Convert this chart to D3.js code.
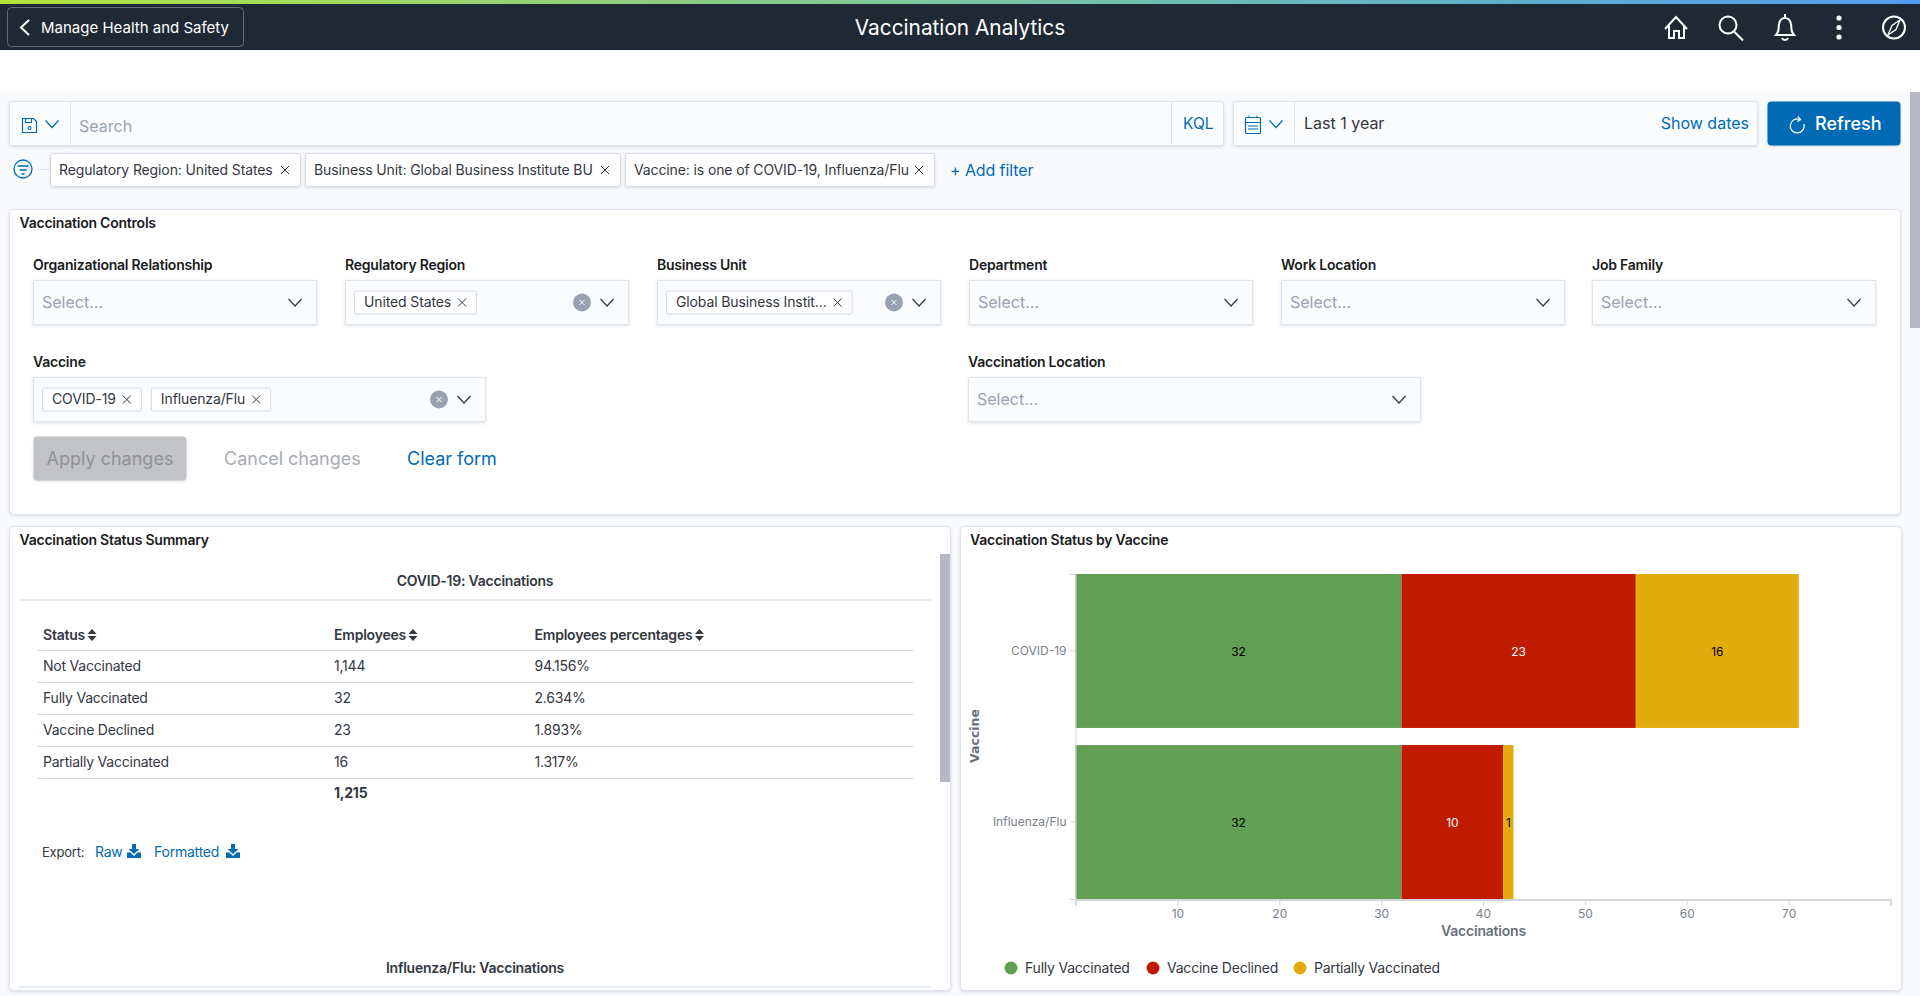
<!DOCTYPE html>
<html>
<head>
<meta charset="utf-8">
<title>Vaccination Analytics</title>
<script src="https://cdn.jsdelivr.net/npm/d3@7"></script>
<style>
html, body { margin: 0; padding: 0; background: #fff; overflow: hidden; }
svg { display: block; font-family: Inter, "Noto Sans", sans-serif; }
.raised { filter: drop-shadow(0 1.5px 1.5px rgba(152,162,179,.35)); }
.axis text { font-family: Inter, sans-serif; font-size: 12px; fill: #7a808b; }
.axis path, .axis line { stroke: #d3d6db; }
</style>
</head>
<body>
<svg id="page" width="1920" height="996"></svg>
<script>
"use strict";

// chart values
const vaccines = ['COVID-19', 'Influenza/Flu'];
const statuses = ['Fully Vaccinated', 'Vaccine Declined', 'Partially Vaccinated'];
const fully_vaccinated = [32, 32];
const vaccine_declined = [23, 10];
const partially_vaccinated = [16, 1];
const x_ticks = [10, 20, 30, 40, 50, 60, 70];

// summary table
const table_columns = ['Status', 'Employees', 'Employees percentages'];
const table_status = ['Not Vaccinated', 'Fully Vaccinated', 'Vaccine Declined', 'Partially Vaccinated'];
const table_employees = ['1,144', '32', '23', '16'];
const table_percent = ['94.156%', '2.634%', '1.893%', '1.317%'];
const table_total = '1,215';

// filter bar and form
const filter_pills = ['Regulatory Region: United States', 'Business Unit: Global Business Institute BU', 'Vaccine: is one of COVID-19, Influenza/Flu'];
const row_one_labels = ['Organizational Relationship', 'Regulatory Region', 'Business Unit', 'Department', 'Work Location', 'Job Family'];
const row_one_tags = [[], ['United States'], ['Global Business Instit...'], [], [], []];
const row_two_labels = ['Vaccine', 'Vaccination Location'];
const row_two_tags = [['COVID-19', 'Influenza/Flu'], []];

const blue = '#006bb4', ink = '#343741', dark = '#1a1c21', muted = '#98a2b3', border = '#dfe3ec', field = '#fbfcfd';
const status_colors = ['#629f52', '#bf1b00', '#e3ac0d'];
const label_colors = ['#000', '#fff', '#000'];

const svg = d3.select('#page');

function label(parent, x, y, str, size, fill, weight, anchor) {
    return parent.append('text')
        .attr('x', x).attr('y', y).attr('dy', '.35em')
        .attr('font-size', size).attr('fill', fill)
        .attr('font-weight', weight || 400)
        .attr('text-anchor', anchor || 'start')
        .style('letter-spacing', size <= 14 ? '-.22px' : null)
        .text(str);
}

function box(parent, x, y, w, h, fill, stroke, r, raised) {
    return parent.append('rect')
        .attr('x', x + .5).attr('y', y + .5)
        .attr('width', w - 1).attr('height', h - 1)
        .attr('rx', r || 0)
        .attr('fill', fill).attr('stroke', stroke || 'none')
        .attr('class', raised ? 'raised' : null);
}

function chevron(parent, x, y, color) {
    parent.append('path')
        .attr('d', `M${x - 6.5},${y - 3.5}L${x},${y + 3.5}L${x + 6.5},${y - 3.5}`)
        .attr('fill', 'none').attr('stroke', color || ink).attr('stroke-width', 1.2);
}

function cross(parent, x, y, color, s) {
    s = s || 4;
    parent.append('path')
        .attr('d', `M${x - s},${y - s}L${x + s},${y + s}M${x + s},${y - s}L${x - s},${y + s}`)
        .attr('fill', 'none').attr('stroke', color || ink).attr('stroke-width', 1);
}

function draw_header() {
    const defs = svg.append('defs');
    const grad = defs.append('linearGradient').attr('id', 'top-bar');
    grad.append('stop').attr('offset', '0%').attr('stop-color', '#b4e33d');
    grad.append('stop').attr('offset', '50%').attr('stop-color', '#7ac5a0');
    grad.append('stop').attr('offset', '100%').attr('stop-color', '#4f9df0');

    svg.append('rect').attr('width', 1920).attr('height', 50).attr('fill', '#1f2935');
    svg.append('rect').attr('width', 1920).attr('height', 4).attr('fill', 'url(#top-bar)');

    box(svg, 7, 7, 237, 40, 'none', '#5f6b78', 4);
    svg.append('path').attr('d', 'M29,20L21,27.5L29,35').attr('fill', 'none').attr('stroke', '#fff').attr('stroke-width', 2);
    label(svg, 41, 27.5, 'Manage Health and Safety', 15, '#fff');
    label(svg, 960, 28, 'Vaccination Analytics', 20.8, '#fff', 400, 'middle');

    const icons = svg.append('g').attr('fill', 'none').attr('stroke', '#fff').attr('stroke-width', 2);
    icons.append('path').attr('d', 'M1665,29L1676,17L1687,29M1669,26V38H1674V31H1679V38H1684V26');
    icons.append('circle').attr('cx', 1728).attr('cy', 25).attr('r', 8.5);
    icons.append('path').attr('d', 'M1734,31.5L1743,40.5');
    icons.append('path').attr('d', 'M1776,35C1780,31 1778,28 1779,24C1780,19 1783,18 1785,18C1787,18 1790,19 1791,24C1792,28 1790,31 1794,35Z M1782,38C1783,40.5 1787,40.5 1788,38');
    icons.append('path').attr('d', 'M1785,14V17');
    const dots = svg.append('g').attr('fill', '#fff');
    [18, 27.5, 37].forEach(cy => dots.append('circle').attr('cx', 1839).attr('cy', cy).attr('r', 2.6));
    icons.append('circle').attr('cx', 1894).attr('cy', 27.5).attr('r', 11);
    icons.append('path').attr('d', 'M1900,20L1892,25.5L1888,35L1896,29.5Z').attr('stroke-width', 1.3);
}

function draw_query_bar() {
    svg.append('rect').attr('y', 92).attr('width', 1920).attr('height', 904).attr('fill', '#f9fafc');

    box(svg, 9, 101, 1215, 45, field, border, 2, true);
    svg.append('line').attr('x1', 70.5).attr('x2', 70.5).attr('y1', 102).attr('y2', 145).attr('stroke', border);
    svg.append('line').attr('x1', 1171.5).attr('x2', 1171.5).attr('y1', 102).attr('y2', 145).attr('stroke', border);
    const save = svg.append('g').attr('fill', 'none').attr('stroke', blue).attr('stroke-width', 1.2);
    save.append('path').attr('d', 'M22.5,118.5H33.5L36.5,121.5V132.5H22.5Z');
    save.append('path').attr('d', 'M25.5,118.5V122.5H31.5V118.5');
    save.append('circle').attr('cx', 29.5).attr('cy', 128).attr('r', 1.5);
    chevron(svg, 52, 124, blue);
    label(svg, 79, 126, 'Search', 16, muted);
    label(svg, 1183, 123.5, 'KQL', 15.5, blue);

    box(svg, 1233, 101, 525, 45, field, border, 2, true);
    svg.append('line').attr('x1', 1294.5).attr('x2', 1294.5).attr('y1', 102).attr('y2', 145).attr('stroke', border);
    const cal = svg.append('g').attr('fill', 'none').attr('stroke', blue).attr('stroke-width', 1.2);
    cal.append('rect').attr('x', 1245.5).attr('y', 117.5).attr('width', 15).attr('height', 16).attr('rx', 1);
    cal.append('path').attr('d', 'M1245.5,122.5H1260.5M1249,115.5V118M1257,115.5V118M1248,126H1258M1248,129H1258').attr('stroke-width', 1);
    chevron(svg, 1276, 124, blue);
    label(svg, 1304, 123.5, 'Last 1 year', 16, ink);
    label(svg, 1749, 123.5, 'Show dates', 16, blue, 400, 'end');

    box(svg, 1767, 101, 134, 45, blue, null, 4, true);
    svg.append('path').attr('d', 'M1800,119.5A7,7 0 1 0 1804,124').attr('fill', 'none').attr('stroke', '#fff').attr('stroke-width', 1.3);
    svg.append('path').attr('d', 'M1798,116.5L1800.5,119.5L1797.5,121.5').attr('fill', 'none').attr('stroke', '#fff').attr('stroke-width', 1.3);
    label(svg, 1815, 124, 'Refresh', 18, '#fff', 500);

    svg.append('rect').attr('x', 1910).attr('y', 92).attr('width', 10).attr('height', 236).attr('fill', '#b5b8c0');

    const funnel = svg.append('g').attr('fill', 'none').attr('stroke', blue).attr('stroke-width', 1.3);
    funnel.append('circle').attr('cx', 23).attr('cy', 169).attr('r', 9);
    funnel.append('path').attr('d', 'M17.5,166H28.5M19.5,170H26.5M21.5,174H24.5');
    svg.append('line').attr('x1', 38).attr('x2', 50).attr('y1', 169.5).attr('y2', 169.5).attr('stroke', border);

    const pill_x = [50, 305, 625], pill_w = [251, 316, 310];
    filter_pills.forEach((pill, i) => {
        box(svg, pill_x[i], 153, pill_w[i], 34, '#fff', '#d3dae6', 2, true);
        label(svg, pill_x[i] + 9, 170, pill, 14, ink).style('letter-spacing', '-.12px');
        cross(svg, pill_x[i] + pill_w[i] - 16, 170, ink, 4);
    });
    label(svg, 950, 170, '+ Add filter', 16, blue).style('letter-spacing', '-.1px');
}

function draw_field(parent, x, y, w, name, tags) {
    label(parent, x, y - 15, name, 14, dark, 600);
    box(parent, x, y, w, 45, field, border, 0, true);
    const mid = y + 22.5;
    if (!tags.length) {
        label(parent, x + 9, mid, 'Select...', 16, muted);
        chevron(parent, x + w - 22, mid, ink);
        return;
    }
    let tag_x = x + 9;
    tags.forEach(tag => {
        const t = label(parent, tag_x + 10, mid, tag, 14, ink).style('letter-spacing', '-.12px');
        const tw = t.node().getComputedTextLength();
        box(parent, tag_x, mid - 12, tw + 36, 24, '#fff', '#d3dae6', 2);
        t.raise();
        cross(parent, tag_x + tw + 21, mid, ink, 4);
        tag_x += tw + 45;
    });
    parent.append('circle').attr('cx', x + w - 47).attr('cy', mid).attr('r', 9).attr('fill', muted);
    cross(parent, x + w - 47, mid, '#fff', 2.5);
    chevron(parent, x + w - 22, mid, ink);
}

function draw_controls() {
    const panel = svg.append('g');
    box(panel, 9, 209, 1892, 306, '#fff', '#dfe3ec', 4, true);
    label(panel, 19.5, 223, 'Vaccination Controls', 14, dark, 600);

    const row_one_x = [33, 345, 657, 969, 1281, 1592];
    row_one_labels.forEach((name, i) => draw_field(panel, row_one_x[i], 280, 284, name, row_one_tags[i]));

    draw_field(panel, 33, 377, 453, row_two_labels[0], row_two_tags[0]);
    draw_field(panel, 968, 377, 453, row_two_labels[1], row_two_tags[1]);

    box(panel, 33, 436, 154, 45, '#c2c3c6', null, 4, true);
    label(panel, 110, 458.5, 'Apply changes', 18, '#8f9298', 400, 'middle');
    label(panel, 224, 458.5, 'Cancel changes', 18, '#a9acb3', 400);
    label(panel, 407, 458.5, 'Clear form', 18, blue, 400);
}

function sort_icon(parent, x, y) {
    parent.append('path')
        .attr('d', `M${x},${y - 6}L${x + 4.5},${y - 1}H${x - 4.5}ZM${x},${y + 6}L${x + 4.5},${y + 1}H${x - 4.5}Z`)
        .attr('fill', ink);
}

function export_icon(parent, x, y) {
    parent.append('path')
        .attr('d', `M${x - 2},${y - 7}H${x + 2}V${y - 2}H${x + 5.5}L${x},${y + 3}L${x - 5.5},${y - 2}H${x - 2}ZM${x - 7},${y + 1.5}H${x - 3.5}L${x},${y + 5}L${x + 3.5},${y + 1.5}H${x + 7}V${y + 7}H${x - 7}Z`)
        .attr('fill', blue);
}

function draw_summary() {
    const panel = svg.append('g');
    box(panel, 9, 526, 942, 465, '#fff', '#dfe3ec', 4, true);
    label(panel, 19.5, 540, 'Vaccination Status Summary', 14, dark, 600);
    label(panel, 475, 581, 'COVID-19: Vaccinations', 14, ink, 600, 'middle');
    panel.append('line').attr('x1', 19).attr('x2', 931).attr('y1', 600).attr('y2', 600).attr('stroke', '#d3dae6').attr('stroke-width', 1.2);

    const col_x = [43, 334, 534.5];
    const row_y = d3.scaleLinear().domain([0, 4]).range([666.3, 794.3]);
    table_columns.forEach((col, i) => {
        const t = label(panel, col_x[i], 635, col, 14, ink, 600);
        sort_icon(panel, col_x[i] + t.node().getComputedTextLength() + 7, 635);
    });
    d3.range(5).forEach(i => {
        const y = row_y(i) - 16;
        panel.append('line').attr('x1', 37).attr('x2', 913).attr('y1', y).attr('y2', y).attr('stroke', '#d3dae6').attr('stroke-width', 1.2);
    });
    table_status.forEach((status, i) => {
        label(panel, col_x[0], row_y(i), status, 14, ink);
        label(panel, col_x[1], row_y(i), table_employees[i], 14, ink);
        label(panel, col_x[2], row_y(i), table_percent[i], 14, ink);
    });
    label(panel, col_x[1], 793, table_total, 14, ink, 700);

    label(panel, 42, 852, 'Export:', 13, ink);
    label(panel, 95, 852, 'Raw', 14, blue);
    export_icon(panel, 134, 851);
    label(panel, 154, 852, 'Formatted', 14, blue);
    export_icon(panel, 233, 851);

    label(panel, 475, 968, 'Influenza/Flu: Vaccinations', 14, ink, 600, 'middle');
    panel.append('line').attr('x1', 19).attr('x2', 931).attr('y1', 987).attr('y2', 987).attr('stroke', '#d3dae6').attr('stroke-width', 1.2);
    panel.append('rect').attr('x', 940).attr('y', 554).attr('width', 10).attr('height', 228).attr('fill', '#b5b8c0');
}

function draw_bar_chart() {
    const panel = svg.append('g');
    box(panel, 960, 526, 942, 465, '#fff', '#dfe3ec', 4, true);
    label(panel, 970, 540, 'Vaccination Status by Vaccine', 14, dark, 600);

    const series = [fully_vaccinated, vaccine_declined, partially_vaccinated];
    const rows = vaccines.map((name, i) => {
        const row = {name};
        statuses.forEach((status, s) => row[status] = series[s][i]);
        return row;
    });
    const stacked = d3.stack().keys(statuses)(rows);

    const x = d3.scaleLinear().domain([0, 80]).range([1075.5, 1890.5]);
    const y = d3.scaleBand().domain(vaccines).range([574, 899]).paddingInner(.1);
    const color = d3.scaleOrdinal().domain(statuses).range(status_colors);

    const layers = panel.selectAll('.layer').data(stacked).enter().append('g')
        .attr('class', 'layer')
        .attr('fill', d => color(d.key));

    layers.selectAll('rect').data(d => d).enter().append('rect')
        .attr('x', d => x(d[0]))
        .attr('y', d => y(d.data.name))
        .attr('width', d => x(d[1]) - x(d[0]))
        .attr('height', y.bandwidth());

    layers.each(function(d, s) {
        d3.select(this).selectAll('text').data(d).enter().append('text')
            .attr('x', v => (x(v[0]) + x(v[1])) / 2)
            .attr('y', v => y(v.data.name) + y.bandwidth() / 2 + 1)
            .attr('dy', '.35em')
            .attr('text-anchor', 'middle')
            .attr('font-size', 12)
            .attr('fill', label_colors[s])
            .text(v => v[1] - v[0]);
    });

    const x_axis = panel.append('g')
        .attr('class', 'axis')
        .attr('transform', 'translate(0,899.5)')
        .call(d3.axisBottom(x).tickValues([0, ...x_ticks, 80]).tickFormat(d => x_ticks.includes(d) ? d : '').tickSize(6).tickSizeOuter(6).tickPadding(4));
    x_axis.select('.domain').attr('stroke-width', 2);
    x_axis.selectAll('text').attr('dy', '.71em');

    panel.append('g')
        .attr('class', 'axis')
        .attr('transform', 'translate(1075.5,0)')
        .call(d3.axisLeft(y).tickSize(5).tickSizeOuter(6).tickPadding(4));

    label(panel, 1483.5, 931, 'Vaccinations', 14, '#69707d', 600, 'middle');
    panel.append('text')
        .attr('transform', 'translate(975,736) rotate(-90)')
        .attr('dy', '.35em')
        .attr('text-anchor', 'middle')
        .attr('font-family', 'DejaVu Sans')
        .attr('font-size', 12.5)
        .attr('font-weight', 700)
        .attr('fill', '#69707d')
        .text('Vaccine');

    const legend_x = [1011, 1153, 1300];
    statuses.forEach((status, i) => {
        panel.append('circle').attr('cx', legend_x[i]).attr('cy', 968).attr('r', 6.5).attr('fill', color(status));
        label(panel, legend_x[i] + 14, 968, status, 14, ink);
    });
}

draw_header();
draw_query_bar();
draw_controls();
draw_summary();
draw_bar_chart();
</script>
</body>
</html>
